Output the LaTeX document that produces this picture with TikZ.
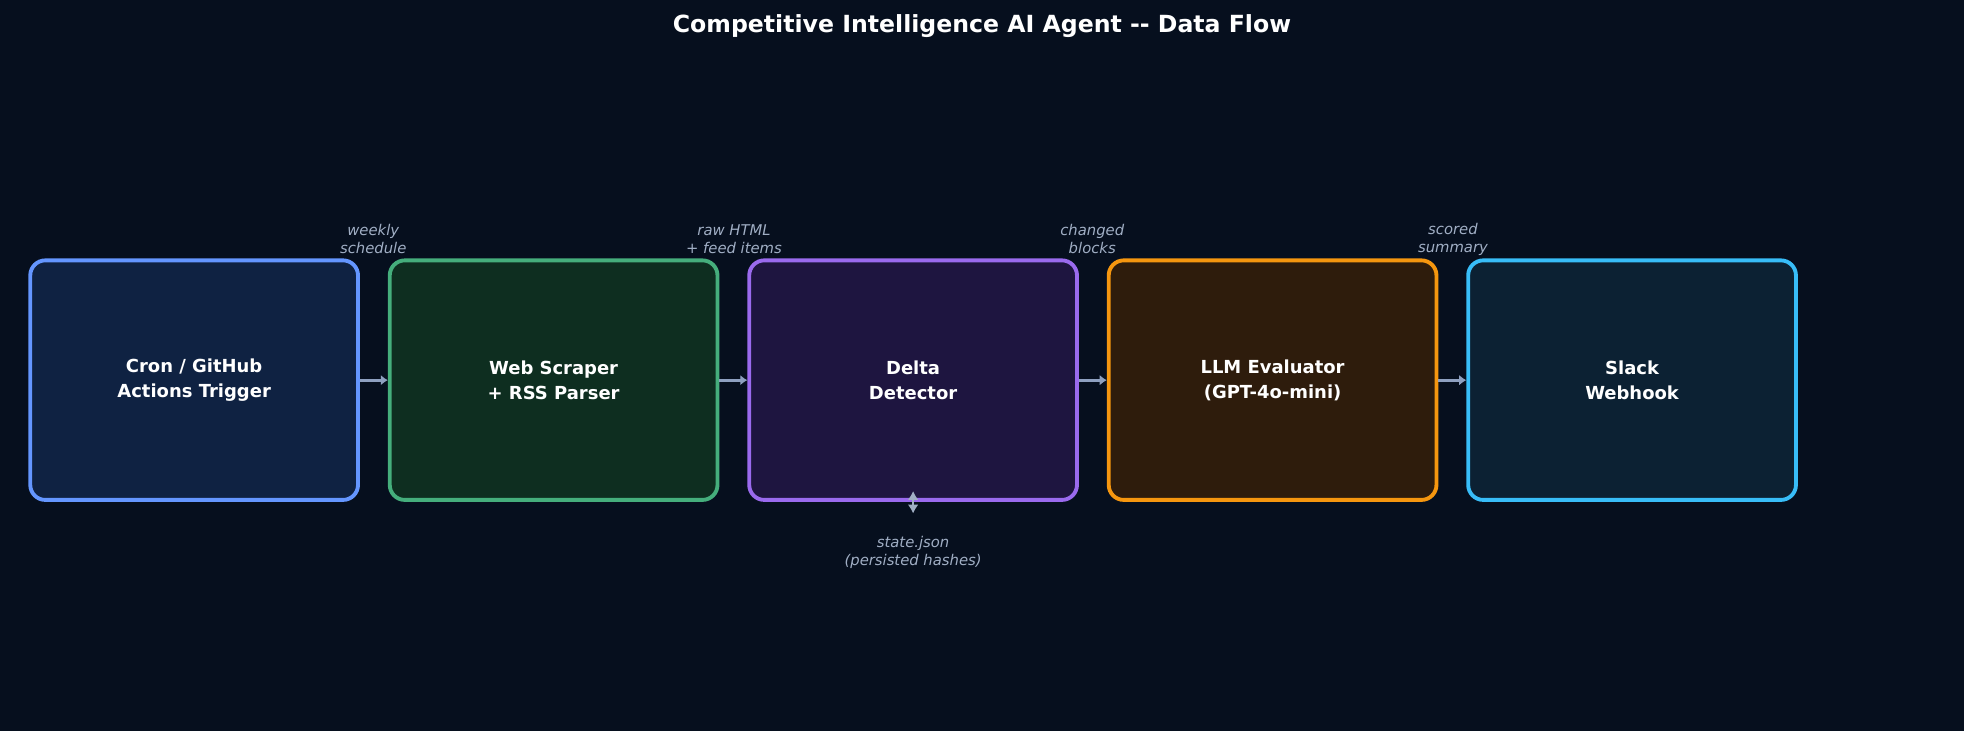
\documentclass[tikz,border=0pt]{standalone}
\usepackage{fontspec}
\setmainfont{DejaVu Sans}
\usetikzlibrary{arrows.meta}
\begin{document}
\definecolor{bg}{HTML}{060F1E}
\definecolor{lab}{HTML}{A0AEC4}
\definecolor{con}{HTML}{8EA0C0}
\definecolor{f1}{HTML}{0F2242}\definecolor{d1}{HTML}{6496FF}
\definecolor{f2}{HTML}{0E2E20}\definecolor{d2}{HTML}{45AE7C}
\definecolor{f3}{HTML}{1E1540}\definecolor{d3}{HTML}{9A6AEE}
\definecolor{f4}{HTML}{2E1C0C}\definecolor{d4}{HTML}{F5960F}
\definecolor{f5}{HTML}{0C2133}\definecolor{d5}{HTML}{38BDF8}
\begin{tikzpicture}[x=0.0125cm,y=-0.0125cm,
  box/.style={draw, line width=1.1pt, rounded corners=0.15cm, minimum width=3.27cm, minimum height=2.39cm, align=center, text=white, font=\fontsize{5.1}{7.2}\selectfont\bfseries},
  lbl/.style={text=lab, align=center, font=\fontsize{4.2}{5.1}\selectfont\itshape},
  conn/.style={draw=con, line width=0.9pt, -{Latex[length=2pt,width=3pt]}}]
\useasboundingbox[fill=bg] (0,0) rectangle (1568,584);
\node[text=white, font=\fontsize{6.7}{8}\selectfont\bfseries] (title) at (784,20.5) {Competitive Intelligence AI Agent -{}- Data Flow};
\node[box, fill=f1, draw=d1] (a) at (155,303.5) {Cron / GitHub\\Actions Trigger};
\node[box, fill=f2, draw=d2] (b) at (442,303.5) {Web Scraper\\+ RSS Parser};
\node[box, fill=f3, draw=d3] (c) at (729,303.5) {Delta\\Detector};
\node[box, fill=f4, draw=d4] (d) at (1016,303.5) {LLM Evaluator\\(GPT-4o-mini)};
\node[box, fill=f5, draw=d5] (e) at (1303,303.5) {Slack\\Webhook};
\draw[conn] (a) -- (b);
\draw[conn] (b) -- (c);
\draw[conn] (c) -- (d);
\draw[conn] (d) -- (e);
\node[lbl] (l1) at (298,191) {weekly\\schedule};
\node[lbl] (l2) at (586,191) {raw HTML\\+ feed items};
\node[lbl] (l3) at (872,191) {changed\\blocks};
\node[lbl] (l4) at (1160,191) {scored\\summary};
\node[lbl] (st) at (729,441) {state.json\\(persisted hashes)};
\coordinate (s1) at (729,392);
\coordinate (s2) at (729,410);
\draw[draw=lab, line width=0.6pt, {Latex[length=2.5pt,width=3pt]}-{Latex[length=2.5pt,width=3pt]}] (s1) -- (s2);
\end{tikzpicture}
\end{document}
